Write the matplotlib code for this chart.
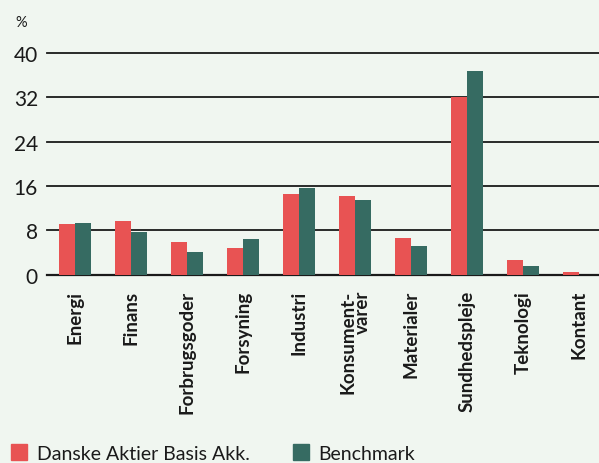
import matplotlib
matplotlib.use("Agg")
import matplotlib.pyplot as plt
from matplotlib.patches import Rectangle
import numpy as np

categories = ["Energi", "Finans", "Forbrugsgoder", "Forsyning", "Industri",
              "Konsument-\nvarer", "Materialer", "Sundhedspleje", "Teknologi", "Kontant"]
fund = [9.15, 9.7, 5.9, 4.8, 14.6, 14.2, 6.6, 32.1, 2.65, 0.5]
bench = [9.3, 7.7, 4.1, 6.4, 15.65, 13.5, 5.2, 36.8, 1.6, 0.0]
yticks = [0, 8, 16, 24, 32, 40]
series_names = ["Danske Aktier Basis Akk.", "Benchmark"]

RED = "#E85353"
GREEN = "#366B62"
BG = "#F0F6F0"
W, H = 599, 464

plt.rcParams["font.family"] = ["Lato", "DejaVu Sans"]

fig = plt.figure(figsize=(W / 100, H / 100), dpi=100, facecolor=BG)
ax = fig.add_axes([47 / W, 1 - 275.7 / H, 1 - 47 / W, (275.7 - 54) / H])
ax.set_facecolor(BG)

x = np.arange(len(categories))
bw = 0.286
for yv in yticks:
    ax.axhline(yv, color="#1a1a1a", lw=1.3 if yv else 1.6, zorder=1, clip_on=False)
ax.bar(x - bw / 2, fund, width=bw, color=RED, zorder=2)
ax.bar(x + bw / 2, bench, width=bw, color=GREEN, zorder=2)

ax.set_xlim(-0.5, (W - 47) / 56 - 0.5)
ax.set_ylim(0, 40)
for s in ax.spines.values():
    s.set_visible(False)
ax.set_yticks(yticks)
ax.set_yticklabels([str(v) for v in yticks], fontsize=15, color="#1a1a1a")
ax.tick_params(axis="y", length=0, pad=6.5)
ax.set_xticks(x)
ax.set_xticklabels(categories, rotation=90, fontsize=13.5, fontweight="bold",
                   color="#1a1a1a", va="top", ha="center", multialignment="right",
                   linespacing=0.85)
ax.tick_params(axis="x", length=0, pad=11)

fig.text(15 / W, 1 - 27 / H, "%", fontsize=10.5, color="#1a1a1a", va="baseline")

# legend
fig.patches.append(Rectangle((11 / W, 1 - 461 / H), 16 / W, 16 / H,
                             transform=fig.transFigure, color=RED))
fig.text(37 / W, 1 - 460 / H, series_names[0], fontsize=14, color="#1a1a1a", va="baseline")
fig.patches.append(Rectangle((293 / W, 1 - 461 / H), 16 / W, 16 / H,
                             transform=fig.transFigure, color=GREEN))
fig.text(318 / W, 1 - 460 / H, series_names[1], fontsize=14, color="#1a1a1a", va="baseline")

fig.savefig("out.png", dpi=100, facecolor=BG)
